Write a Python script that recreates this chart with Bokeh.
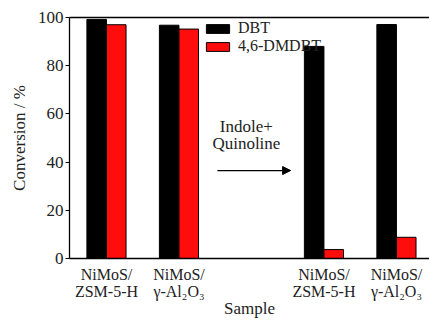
from bokeh.plotting import figure
from bokeh.models import (ColumnDataSource, Range1d, FixedTicker, LinearAxis, Label,
                          Arrow, NormalHead, Legend, LegendItem)
from bokeh.transform import dodge
from bokeh.embed import file_html
from bokeh.resources import INLINE

# ---- data ----
positions = [1, 2, 4, 5]
categories = ["NiMoS/\nZSM-5-H", "NiMoS/\nγ-Al₂O₃", "NiMoS/\nZSM-5-H", "NiMoS/\nγ-Al₂O₃"]
dbt = [99.2, 96.8, 88.0, 97.1]
dmdbt = [97.0, 95.2, 3.7, 8.8]
y_ticks = [0, 20, 40, 60, 80, 100]
series_names = ["DBT", "4,6-DMDBT"]
annotation_text = ["Indole+", "Quinoline"]

FONT = "Liberation Serif"
RED = "#ff0d0d"
TXT = "#222222"

src = ColumnDataSource(dict(x=positions, dbt=dbt, dmdbt=dmdbt))

p = figure(width=429, height=322, output_backend="svg", toolbar_location=None,
           x_range=Range1d(0.49, 5.456), y_range=Range1d(0, 100),
           min_border_left=69, min_border_right=0, min_border_top=17, min_border_bottom=64)
p.outline_line_color = None
p.grid.visible = False

r1 = p.vbar(x=dodge("x", -0.135, range=p.x_range), top="dbt", width=0.27, source=src,
            fill_color="black", line_color="black", line_width=1)
r2 = p.vbar(x=dodge("x", 0.135, range=p.x_range), top="dmdbt", width=0.27, source=src,
            fill_color=RED, line_color="black", line_width=1)

# y axis
ya = p.yaxis[0]
ya.ticker = FixedTicker(ticks=y_ticks)
ya.minor_tick_line_color = None
ya.major_tick_in = 0
ya.major_tick_out = 4
ya.major_label_standoff = 2
ya.major_label_text_font = FONT
ya.major_label_text_font_size = "17px"
ya.major_label_text_color = TXT
ya.axis_line_width = 1.3
ya.axis_line_color = "black"
ya.axis_label = "Conversion / %"
ya.axis_label_text_font = FONT
ya.axis_label_text_font_style = "normal"
ya.axis_label_text_font_size = "17px"
ya.axis_label_text_color = TXT
ya.axis_label_standoff = 6

# x axis
xa = p.xaxis[0]
xa.ticker = FixedTicker(ticks=positions)
xa.major_label_overrides = {xp: c for xp, c in zip(positions, categories)}
xa.minor_tick_line_color = None
xa.major_tick_line_color = None
xa.major_label_standoff = 1
xa.major_label_text_font = FONT
xa.major_label_text_font_size = "16px"
xa.major_label_text_color = TXT
xa.major_label_text_line_height = 1.0
xa.axis_line_width = 1.3
xa.axis_line_color = "black"
xa.axis_label = "Sample"
xa.axis_label_text_font = FONT
xa.axis_label_text_font_style = "normal"
xa.axis_label_text_font_size = "17px"
xa.axis_label_text_color = TXT
xa.axis_label_standoff = -4

# top frame line
top = LinearAxis(ticker=FixedTicker(ticks=[3]), major_label_overrides={3: " "},
                 axis_line_width=1.3, axis_line_color="black",
                 major_tick_line_color=None, minor_tick_line_color=None,
                 major_label_text_font_size="4px", major_label_standoff=0)
p.add_layout(top, "above")

# annotation
p.add_layout(Label(x=2.93, y=51, text=annotation_text[0], text_align="center",
                   text_font=FONT, text_font_size="17px", text_color=TXT))
p.add_layout(Label(x=2.93, y=43.6, text=annotation_text[1], text_align="center",
                   text_font=FONT, text_font_size="17px", text_color=TXT))
p.add_layout(Arrow(x_start=2.53, y_start=36.5, x_end=3.54, y_end=36.5, line_width=1.3,
                   line_color="black",
                   end=NormalHead(size=8, fill_color="black", line_color="black")))

# legend
legend = Legend(items=[LegendItem(label=series_names[0], renderers=[r1]),
                       LegendItem(label=series_names[1], renderers=[r2])],
                location=(134, 203), orientation="vertical",
                glyph_width=29, glyph_height=11, label_height=11, spacing=-5,
                padding=0, margin=0, label_standoff=6,
                label_text_font=FONT, label_text_font_size="16px",
                label_text_color=TXT,
                border_line_color=None, background_fill_alpha=0)
p.add_layout(legend)

open("out.html", "w").write(file_html(p, INLINE))
